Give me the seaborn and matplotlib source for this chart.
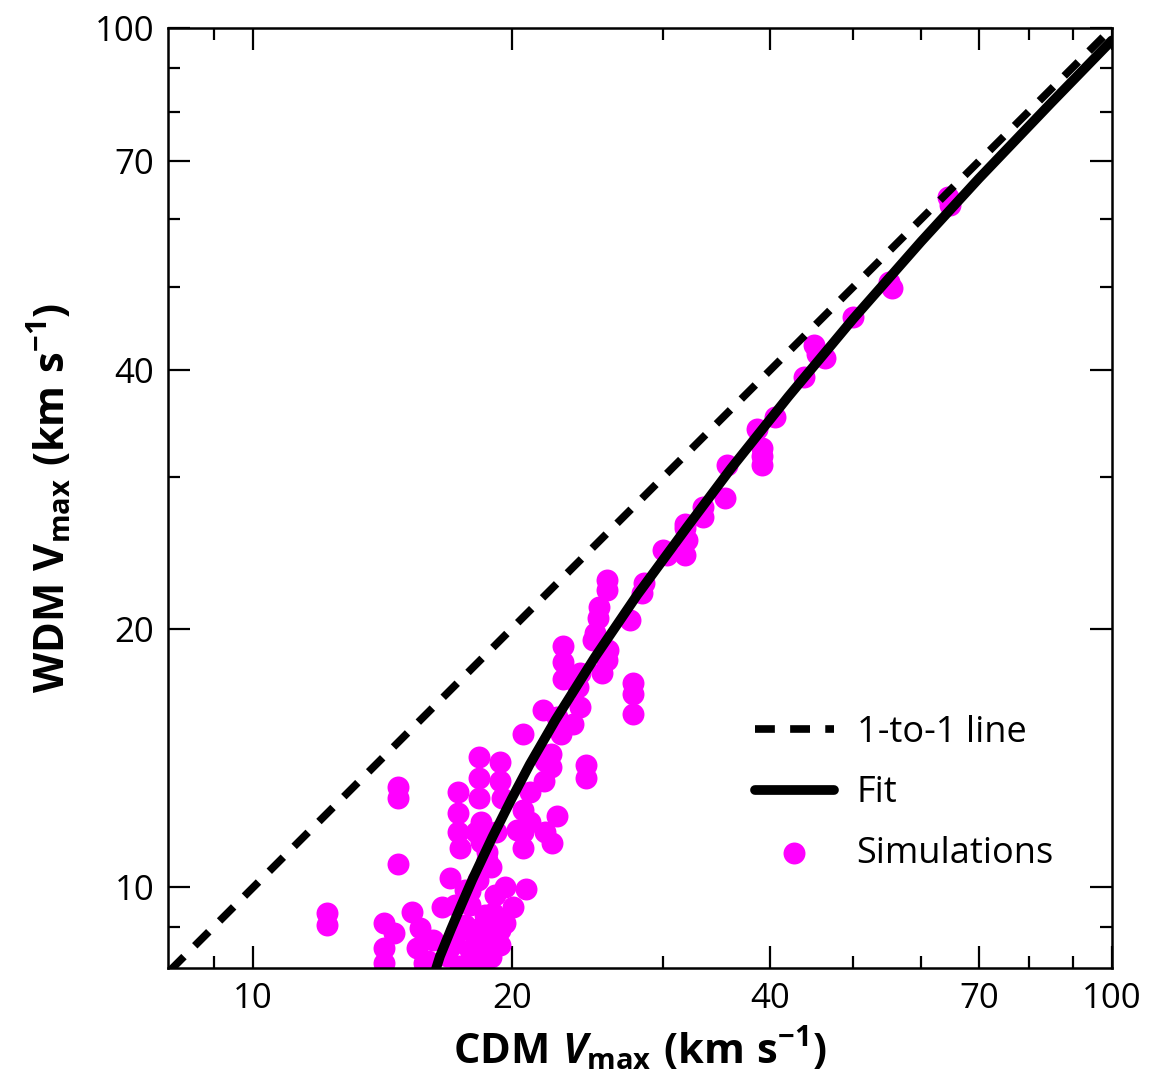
import numpy as np
import pandas as pd
import matplotlib.pyplot as plt
import seaborn as sns
from matplotlib.ticker import FixedLocator, NullFormatter

# Simulated halos: CDM vs WDM Vmax (km/s)
cdm_vmax = [64.4, 64.8, 55.0, 55.4, 50.0, 45.0, 45.3, 46.3, 43.8, 40.5,
            38.6, 39.1, 39.1, 39.1, 35.6, 35.4, 33.4, 33.4, 31.8, 31.8,
            32.0, 31.8, 30.3, 30.0, 28.5, 28.4, 27.5, 25.8, 25.8, 25.3,
            25.2, 25.0, 24.9, 25.9, 25.8, 25.5, 27.7, 27.7, 27.7, 22.96,
            22.96, 22.96, 24.0, 23.9, 21.76, 24.0, 23.6, 20.6, 22.8, 22.2,
            22.2, 21.8, 21.9, 24.4, 24.4, 18.3, 19.4, 18.3, 19.4, 17.3,
            18.3, 19.5, 21.0, 17.3, 18.4, 20.6, 21.0, 22.6, 17.3, 18.2,
            20.6, 21.9, 14.75, 14.75, 14.75, 12.2, 12.2, 17.4, 16.96, 18.4,
            18.7, 15.3, 14.2, 14.6, 14.2, 14.2, 15.65, 15.5, 15.8, 16.6,
            19.0, 18.4, 22.3, 20.9, 20.6, 20.8, 20.1, 19.65, 19.65, 18.7,
            18.7, 18.9, 19.2, 20.3, 16.8, 17.42, 17.89, 17.65, 18.13, 17.19,
            17.89, 18.63, 17.19, 19.39, 17.65, 18.27, 19.12, 16.2, 16.0, 19.0,
            19.4, 18.04, 22.6, 18.4, 17.0, 18.9, 17.9]
wdm_vmax = [63.6, 62.2, 50.6, 49.8, 46.1, 42.8, 41.8, 41.3, 39.3, 35.3,
            34.2, 32.5, 31.8, 31.0, 31.0, 28.4, 27.7, 27.0, 26.5, 26.2,
            25.35, 24.4, 24.4, 24.7, 22.6, 22.0, 20.5, 22.8, 22.2, 21.2,
            20.6, 19.8, 19.4, 18.9, 18.4, 17.75, 17.3, 16.8, 15.9, 19.1,
            18.3, 17.5, 17.75, 17.1, 16.07, 16.2, 15.5, 15.1, 15.1, 14.3,
            13.8, 13.3, 14.05, 13.9, 13.4, 14.2, 14.0, 13.4, 13.3, 12.9,
            12.7, 12.7, 12.9, 12.2, 11.9, 12.3, 11.9, 12.1, 11.6, 11.6,
            11.6, 11.6, 13.1, 12.7, 10.66, 9.33, 9.03, 11.1, 10.25, 11.3,
            10.75, 9.35, 9.1, 8.84, 8.49, 8.16, 8.98, 8.5, 8.16, 9.48,
            8.68, 8.22, 11.25, 11.9, 11.1, 9.97, 9.48, 9.08, 10.0, 8.61,
            11.0, 10.55, 11.6, 11.65, 8.33, 8.11, 8.45, 9.03, 8.79, 8.79,
            9.53, 9.28, 9.53, 8.56, 9.92, 10.19, 9.79, 8.68, 8.22, 9.33,
            8.91, 8.16, 15.8, 9.0, 8.55, 8.3, 9.9]

# fitted relation
fit_cdm = [16.2, 16.5, 17.0, 17.5, 18.0, 19.0, 20.0, 21.0, 22.5, 25.0,
           28.0, 32.0, 36.0, 42.0, 50.0, 60.0, 70.0, 85.0, 100.0]
fit_wdm = [7.84, 8.31, 8.94, 9.57, 10.21, 11.45, 12.68, 13.91, 15.67, 18.53,
           21.89, 26.25, 30.72, 37.26, 45.92, 56.5, 66.85, 81.9, 96.8]

one_to_one = [8, 100]

major_ticks = [10, 20, 40, 70, 100]
minor_ticks = [9, 30, 50, 60, 80, 90]

sims = pd.DataFrame({"cdm": cdm_vmax, "wdm": wdm_vmax})
fit = pd.DataFrame({"cdm": fit_cdm, "wdm": fit_wdm})
ident = pd.DataFrame({"cdm": one_to_one, "wdm": one_to_one})

sns.set_style("ticks")
plt.rcParams["font.family"] = ["Open Sans", "DejaVu Sans"]
plt.rcParams["mathtext.fontset"] = "custom"
plt.rcParams["mathtext.rm"] = "Open Sans:bold"
plt.rcParams["mathtext.it"] = "Open Sans:italic:bold"
plt.rcParams["mathtext.bf"] = "Open Sans:bold"
plt.rcParams["text.color"] = "black"
plt.rcParams["axes.labelcolor"] = "black"

fig = plt.figure(figsize=(11.51, 10.88), dpi=100)
ax = fig.add_axes([0.146, 0.110, 0.820, 0.864])

sns.scatterplot(data=sims, x="cdm", y="wdm", ax=ax, color="#ff00ff", s=250,
                linewidth=0, label="Simulations", zorder=2)
sns.lineplot(data=ident, x="cdm", y="wdm", ax=ax, color="black", lw=5.5,
             linestyle=(0, (2.6, 2.0)), sort=False, estimator=None,
             label="1-to-1 line", zorder=3)
sns.lineplot(data=fit, x="cdm", y="wdm", ax=ax, color="black", lw=7,
             sort=False, estimator=None, label="Fit", zorder=3)

ax.set_xscale("log")
ax.set_yscale("log")
ax.set_xlim(7.96, 100)
ax.set_ylim(8.05, 100)

for axis in (ax.xaxis, ax.yaxis):
    axis.set_major_locator(FixedLocator(major_ticks))
    axis.set_minor_locator(FixedLocator(minor_ticks))
    axis.set_minor_formatter(NullFormatter())
ax.set_xticklabels([str(t) for t in major_ticks])
ax.set_yticklabels([str(t) for t in major_ticks])

ax.tick_params(which="both", direction="in", top=True, right=True,
               width=1.6, colors="black", labelcolor="black")
ax.tick_params(which="major", length=16, labelsize=25, pad=10)
ax.tick_params(which="minor", length=8.5)
for sp in ax.spines.values():
    sp.set_linewidth(1.8)
    sp.set_color("black")

ax.set_xlabel(r"$\mathrm{CDM}\ V_{\mathrm{max}}\ (\mathrm{km\ s^{-1}})$", fontsize=30, labelpad=7)
ax.set_ylabel(r"$\mathrm{WDM\ V_{max}\ (km\ s^{-1})}$", fontsize=30, labelpad=14)

# legend in order: 1-to-1, Fit, Simulations
h, l = ax.get_legend_handles_labels()
order = [l.index("1-to-1 line"), l.index("Fit"), l.index("Simulations")]
ax.legend([h[i] for i in order], [l[i] for i in order], loc="lower right",
          bbox_to_anchor=(0.973, 0.068), frameon=False, fontsize=26,
          handlelength=2.17, handletextpad=0.64, labelspacing=0.68)

fig.savefig("out.png", dpi=100)
